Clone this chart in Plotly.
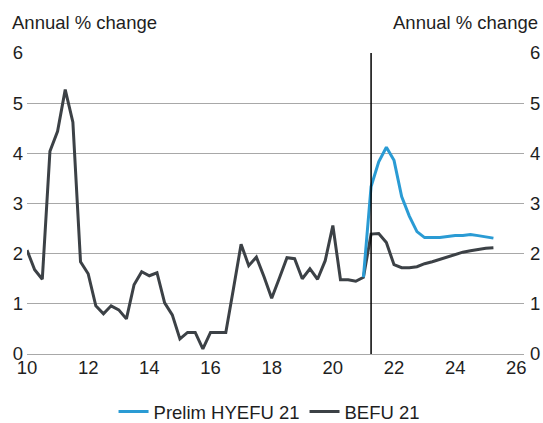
import plotly.graph_objects as go

# Quarterly observations, x expressed as two-digit year (10 = 2010)
start_year = 10.0
befu_21 = [2.07, 1.68, 1.49, 4.04, 4.44, 5.27, 4.62, 1.84,
           1.60, 0.96, 0.80, 0.96, 0.88, 0.70, 1.38, 1.64,
           1.56, 1.62, 1.02, 0.78, 0.30, 0.43, 0.43, 0.10,
           0.43, 0.43, 0.43, 1.30, 2.19, 1.76, 1.93, 1.54,
           1.11, 1.51, 1.92, 1.90, 1.50, 1.70, 1.49, 1.86,
           2.56, 1.48, 1.48, 1.45, 1.53, 2.39, 2.40, 2.22,
           1.78, 1.72, 1.72, 1.74, 1.80, 1.84, 1.89, 1.93,
           1.98, 2.03, 2.06, 2.09, 2.11, 2.12]
hyefu_start = 21.0
prelim_hyefu_21 = [1.53, 3.34, 3.83, 4.12, 3.86, 3.14, 2.75, 2.44,
                   2.32, 2.32, 2.32, 2.34, 2.36, 2.36, 2.38, 2.36,
                   2.34, 2.31]
forecast_marker = 21.25
x_ticks = [10, 12, 14, 16, 18, 20, 22, 24, 26]
y_ticks = [0, 1, 2, 3, 4, 5, 6]
axis_title = "Annual % change"

x_befu = [start_year + 0.25 * i for i in range(len(befu_21))]
x_hyefu = [hyefu_start + 0.25 * i for i in range(len(prelim_hyefu_21))]

FONT = "Liberation Sans, Arial, sans-serif"
FS = 18.5
TXT = "#1e1e1e"
BLUE = "#2a9bd4"
GREY = "#3c4146"

fig = go.Figure()
fig.add_trace(go.Scatter(x=x_befu, y=befu_21, mode="lines", name="BEFU 21",
                         line=dict(color=GREY, width=3), legendrank=2))
fig.add_trace(go.Scatter(x=x_hyefu, y=prelim_hyefu_21, mode="lines",
                         name="Prelim HYEFU 21",
                         line=dict(color=BLUE, width=3), legendrank=1))
# invisible trace to activate right axis
fig.add_trace(go.Scatter(x=[x_befu[0]], y=[befu_21[0]], yaxis="y2",
                         mode="lines", showlegend=False, hoverinfo="skip",
                         line=dict(color="rgba(0,0,0,0)")))

fig.add_shape(type="line", xref="x", yref="y", x0=forecast_marker,
              x1=forecast_marker, y0=y_ticks[0], y1=y_ticks[-1],
              line=dict(color="black", width=1.5))

fig.update_layout(
    width=543, height=423,
    margin=dict(l=27, r=19, t=53, b=69, autoexpand=False),
    paper_bgcolor="white", plot_bgcolor="white",
    font=dict(family=FONT, size=FS, color=TXT),
    showlegend=True,
    legend=dict(orientation="h", x=0.488, xanchor="center", y=-0.193,
                yanchor="middle", font=dict(size=FS, color=TXT),
                itemwidth=30, tracegroupgap=0),
    xaxis=dict(range=[10, 26.25], tickvals=x_ticks, showgrid=False,
               zeroline=False, showline=False, ticks="",
               tickfont=dict(size=FS)),
    yaxis=dict(range=[0, 6], tickvals=y_ticks, showgrid=True,
               gridcolor="#a8a8a8", gridwidth=1, zeroline=True,
               zerolinecolor="#a8a8a8", zerolinewidth=1, ticks="",
               ticklabelstandoff=3, tickfont=dict(size=FS)),
    yaxis2=dict(range=[0, 6], tickvals=y_ticks, overlaying="y",
                side="right", showgrid=False, zeroline=False, ticks="",
                ticklabelstandoff=5, tickfont=dict(size=FS)),
    annotations=[
        dict(text=axis_title, xref="paper", yref="paper", x=-0.034, y=1.0,
             xanchor="left", yanchor="middle", yshift=31, showarrow=False,
             font=dict(size=FS, color=TXT)),
        dict(text=axis_title, xref="paper", yref="paper", x=1.032, y=1.0,
             xanchor="right", yanchor="middle", yshift=31, showarrow=False,
             font=dict(size=FS, color=TXT)),
    ],
)

fig.write_html(
    "out.html",
    config={"displayModeBar": False},
    post_script="document.body.style.margin='0';"
                "document.documentElement.style.overflow='hidden';"
                "document.body.style.overflow='hidden';",
)
